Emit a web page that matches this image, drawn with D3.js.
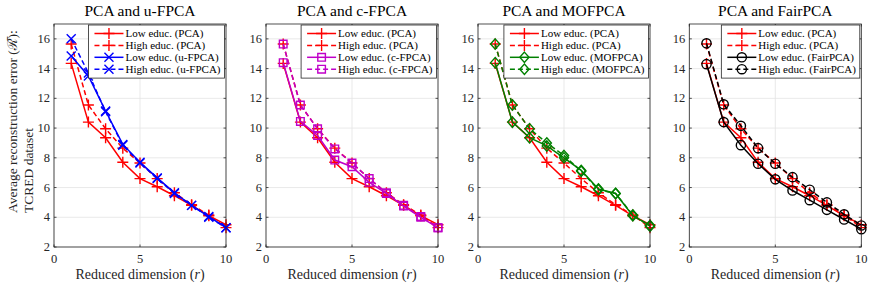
<!DOCTYPE html>
<html>
<head>
<meta charset="utf-8">
<script src="https://cdn.jsdelivr.net/npm/d3@7"></script>
<style>
  body { margin: 0; background: #fff; }
</style>
</head>
<body>
<div id="viz"></div>
<script>
const width = 872;
const height = 286;

// data
const dims = [1, 2, 3, 4, 5, 6, 7, 8, 9, 10];
const pcaLow  = [14.35, 10.4, 9.35, 7.7, 6.6, 6.05, 5.45, 4.8, 4.1, 3.5];
const pcaHigh = [15.65, 11.55, 9.95, 8.65, 7.65, 6.6, 5.65, 4.85, 4.15, 3.3];
const ufpcaLow  = [14.85, 13.5, 11.15, 8.9, 7.7, 6.65, 5.65, 4.8, 4.05, 3.3];
const ufpcaHigh = [16.0, 13.7, 11.1, 8.85, 7.65, 6.6, 5.6, 4.8, 4.0, 3.3];
const cfpcaLow  = [14.4, 10.45, 9.5, 7.85, 7.4, 6.35, 5.6, 4.75, 4.0, 3.3];
const cfpcaHigh = [15.65, 11.55, 9.95, 8.6, 7.65, 6.6, 5.65, 4.8, 4.05, 3.3];
const mofpcaLow  = [14.4, 10.4, 9.35, 8.8, 8.0, 7.15, 5.9, 5.6, 4.1, 3.45];
const mofpcaHigh = [15.65, 11.55, 9.95, 9.0, 8.15, 7.1, 5.85, 5.6, 4.15, 3.4];
const fairLow  = [14.3, 10.4, 8.85, 7.6, 6.55, 5.8, 5.15, 4.5, 3.85, 3.2];
const fairHigh = [15.7, 11.6, 10.15, 8.65, 7.6, 6.7, 5.85, 5.0, 4.2, 3.45];

const panelTitles = ['PCA and u-FPCA', 'PCA and c-FPCA', 'PCA and MOFPCA', 'PCA and FairPCA'];
const methodNames = ['u-FPCA', 'c-FPCA', 'MOFPCA', 'FairPCA'];
const methodColors = ['#0000ff', '#c000c8', '#008000', '#000000'];
const methodMarkers = ['cross', 'square', 'diamond', 'circle'];
const methodLow = [ufpcaLow, cfpcaLow, mofpcaLow, fairLow];
const methodHigh = [ufpcaHigh, cfpcaHigh, mofpcaHigh, fairHigh];
const xTicks = [0, 5, 10];
const yTicks = [2, 4, 6, 8, 10, 12, 14, 16];

const plot = { top: 24, bottom: 247, width: 172 };
const panelLeft = [54, 266, 478, 689.3];
const axisColor = '#262626';
const serif = '"Liberation Serif", "DejaVu Serif", "Noto Serif", "Times New Roman", Times, serif';

const svg = d3.select('#viz').append('svg')
  .attr('width', width)
  .attr('height', height)
  .attr('font-family', serif)
  .style('font-family', serif);

// marker paths around (0,0)
const markerPath = (type) => {
  if (type === 'plus') return 'M-5.5,0H5.5M0,-5.5V5.5';
  if (type === 'cross') return 'M-4.5,-4.5L4.5,4.5M-4.5,4.5L4.5,-4.5';
  if (type === 'square') return 'M-3.8,-3.8H3.8V3.8H-3.8Z';
  return 'M0,-5.2L4.6,0L0,5.2L-4.6,0Z';
};

const drawMarker = (g, type, color) => {
  if (type === 'circle') {
    g.append('circle').attr('r', 4.6)
      .attr('fill', 'none').attr('stroke', color).attr('stroke-width', 1.4);
  } else {
    g.append('path').attr('d', markerPath(type))
      .attr('fill', 'none').attr('stroke', color).attr('stroke-width', 1.4);
  }
};

panelTitles.forEach((title, i) => {
  const x = d3.scaleLinear().domain([0, 10]).range([0, plot.width]);
  const y = d3.scaleLinear().domain([2, 17]).range([plot.bottom - plot.top, 0]);
  const h = plot.bottom - plot.top;

  const g = svg.append('g').attr('transform', `translate(${panelLeft[i]},${plot.top})`);

  // grid
  g.selectAll('.gx').data(xTicks).join('line')
    .attr('x1', d => x(d)).attr('x2', d => x(d))
    .attr('y1', 0).attr('y2', h)
    .attr('stroke', '#e3e3e3').attr('stroke-width', 0.8);
  g.selectAll('.gy').data(yTicks).join('line')
    .attr('x1', 0).attr('x2', plot.width)
    .attr('y1', d => y(d)).attr('y2', d => y(d))
    .attr('stroke', '#e3e3e3').attr('stroke-width', 0.8);

  // series: PCA first, then method
  const series = [
    { vals: pcaLow, color: '#ff0000', marker: 'plus', dash: null, label: 'Low educ. (PCA)' },
    { vals: pcaHigh, color: '#ff0000', marker: 'plus', dash: '5,3', label: 'High educ. (PCA)' },
    { vals: methodLow[i], color: methodColors[i], marker: methodMarkers[i], dash: null, label: `Low educ. (${methodNames[i]})` },
    { vals: methodHigh[i], color: methodColors[i], marker: methodMarkers[i], dash: '5,3', label: `High educ. (${methodNames[i]})` },
  ];

  const line = d3.line().x((d, k) => x(dims[k])).y(d => y(d));

  series.forEach(s => {
    g.append('path').datum(s.vals)
      .attr('d', line)
      .attr('fill', 'none')
      .attr('stroke', s.color)
      .attr('stroke-width', 1.5)
      .attr('stroke-dasharray', s.dash);
    s.vals.forEach((v, k) => {
      const m = g.append('g').attr('transform', `translate(${x(dims[k])},${y(v)})`);
      drawMarker(m, s.marker, s.color);
    });
  });

  // axes box
  g.append('rect').attr('x', 0).attr('y', 0).attr('width', plot.width).attr('height', h)
    .attr('fill', 'none').attr('stroke', axisColor).attr('stroke-width', 0.8);

  // ticks (inward, mirrored)
  xTicks.forEach(t => {
    g.append('line').attr('x1', x(t)).attr('x2', x(t)).attr('y1', h).attr('y2', h - 2.5)
      .attr('stroke', axisColor).attr('stroke-width', 0.8);
    g.append('line').attr('x1', x(t)).attr('x2', x(t)).attr('y1', 0).attr('y2', 2.5)
      .attr('stroke', axisColor).attr('stroke-width', 0.8);
    g.append('text').attr('x', x(t)).attr('y', h + 16)
      .attr('text-anchor', 'middle').attr('font-size', 12.5).attr('fill', axisColor).text(t);
  });
  yTicks.forEach(t => {
    g.append('line').attr('x1', 0).attr('x2', 2.5).attr('y1', y(t)).attr('y2', y(t))
      .attr('stroke', axisColor).attr('stroke-width', 0.8);
    g.append('line').attr('x1', plot.width).attr('x2', plot.width - 2.5).attr('y1', y(t)).attr('y2', y(t))
      .attr('stroke', axisColor).attr('stroke-width', 0.8);
    g.append('text').attr('x', -4).attr('y', y(t) + 4)
      .attr('text-anchor', 'end').attr('font-size', 12.5).attr('fill', axisColor).text(t);
  });

  // title
  g.append('text').attr('x', plot.width / 2).attr('y', -8)
    .attr('text-anchor', 'middle').attr('font-size', 15.5).attr('fill', '#000').text(title);

  // x label
  const xl = g.append('text').attr('x', plot.width / 2).attr('y', h + 32)
    .attr('text-anchor', 'middle').attr('font-size', 14).attr('fill', axisColor);
  xl.append('tspan').text('Reduced dimension (');
  xl.append('tspan').attr('font-style', 'italic').text('r');
  xl.append('tspan').text(')');

  // legend
  const lg = g.append('g');
  const rowH = 11.9;
  const texts = [];
  series.forEach((s, k) => {
    const ry = 8.5 + k * rowH;
    lg.append('line').attr('x1', 6).attr('x2', 35).attr('y1', ry).attr('y2', ry)
      .attr('stroke', s.color).attr('stroke-width', 1.5).attr('stroke-dasharray', s.dash);
    const m = lg.append('g').attr('transform', `translate(20.5,${ry})`);
    drawMarker(m, s.marker, s.color);
    texts.push(lg.append('text').attr('x', 37).attr('y', ry + 3.5)
      .attr('font-size', 11).attr('fill', '#000').text(s.label));
  });
  const maxW = d3.max(texts, t => t.node().getComputedTextLength());
  const boxW = 37 + maxW + 4;
  lg.insert('rect', ':first-child')
    .attr('x', 0).attr('y', 0).attr('width', boxW).attr('height', 4 * rowH + 5.5)
    .attr('fill', '#fff').attr('stroke', axisColor).attr('stroke-width', 0.8);
  lg.attr('transform', `translate(${plot.width - 1.5 - boxW},1)`);
});

// y label (two lines, rotated)
const yl = svg.append('text')
  .attr('transform', 'translate(17,213) rotate(-90)')
  .attr('font-size', 13.5).attr('fill', axisColor);
yl.append('tspan').attr('x', 0).attr('y', 0).text('Average reconstruction error (ℛ̄):');
yl.append('tspan').attr('x', 0).attr('y', 15.5).text('TCRED dataset');
</script>
</body>
</html>
